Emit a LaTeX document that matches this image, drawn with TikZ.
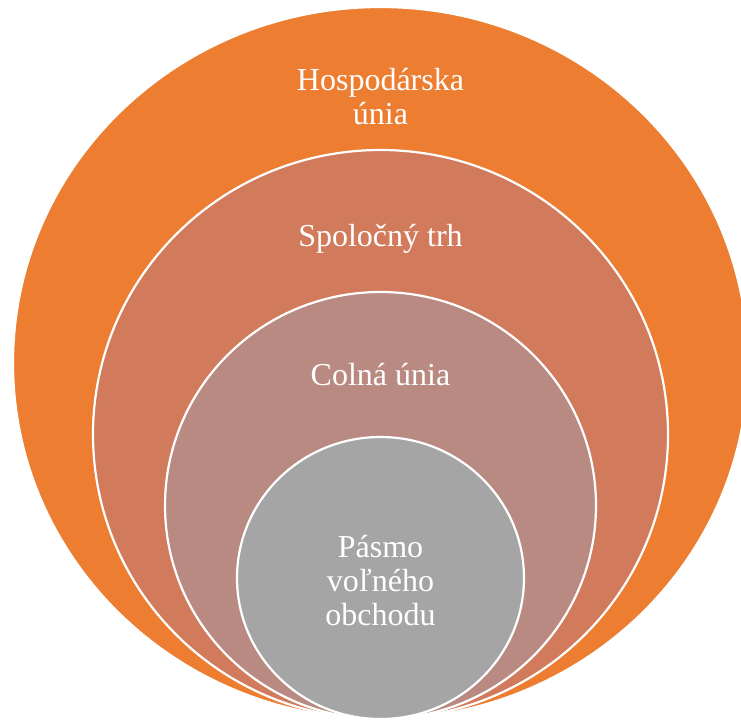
\documentclass[tikz,border=0pt]{standalone}
\usepackage{fontspec}
\setmainfont{Liberation Serif}
\usetikzlibrary{shapes.geometric, positioning}

\definecolor{hospfill}{HTML}{ED7D31}
\definecolor{trhfill}{HTML}{D27A5C}
\definecolor{colnafill}{HTML}{B98A82}
\definecolor{pasmofill}{HTML}{A5A5A5}

\begin{document}
\begin{tikzpicture}[
    x=1pt, y=-1pt,
    ring/.style = {ellipse, draw=white, line width=2.2pt, inner sep=0pt},
    lbl/.style  = {text=white, align=center, inner sep=0pt, anchor=north, font=\fontsize{32}{34}\selectfont}
]
\clip (0,0) rectangle (741,722);

% --- Kruhy ---
\node[ring, fill=hospfill, minimum width=735pt, minimum height=712pt] (hosp) at (380.5,363) {};
\node[ring, fill=trhfill, minimum width=575pt, minimum height=569pt] (trh) at (380.5,434.5) {};
\node[ring, fill=colnafill, minimum width=431pt, minimum height=427pt] (colna) at (380.5,505.5) {};
\node[ring, fill=pasmofill, minimum width=287pt, minimum height=282pt] (pasmo) at (380.5,578) {};

% --- Popisy ---
\node[lbl, below=62pt of hosp.north] (hosptxt) {Hospodárska\\ únia};
\node[lbl, below=75pt of trh.north] (trhtxt) {Spoločný trh};
\node[lbl, below=72pt of colna.north] (colnatxt) {Colná únia};
\node[lbl, below=99pt of pasmo.north] (pasmotxt) {Pásmo\\ voľného\\ obchodu};

\end{tikzpicture}
\end{document}
